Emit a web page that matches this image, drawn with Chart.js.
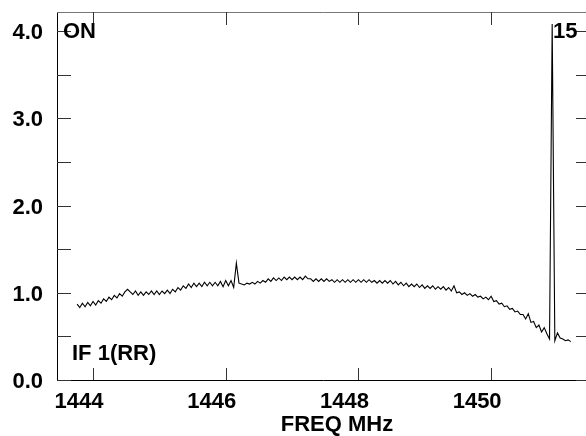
<!DOCTYPE html>
<html>
<head>
<meta charset="utf-8">
<script src="https://cdn.jsdelivr.net/npm/chart.js@4.4.1/dist/chart.umd.min.js"></script>
<style>
  html, body { margin: 0; padding: 0; background: #fff; width: 586px; height: 436px; overflow: hidden; }
  #wrap { width: 600px; height: 436px; }
</style>
</head>
<body>
<div id="wrap"><canvas id="grafica"></canvas></div>
<script>
// channel grid of the spectrum (MHz)
const freqInicio = 1443.76;
const anchoCanal = 0.04;

// amplitude per channel
const amplitud = [
  0.87, 0.83, 0.88, 0.84, 0.89, 0.85, 0.90, 0.86, 0.91, 0.88,
  0.93, 0.90, 0.95, 0.92, 0.97, 0.94, 0.99, 0.96, 1.01, 1.04,
  1.01, 0.98, 1.02, 0.97, 1.01, 0.97, 1.01, 0.98, 1.02, 0.98,
  1.02, 0.98, 1.02, 0.99, 1.03, 0.99, 1.04, 1.01, 1.06, 1.03,
  1.08, 1.05, 1.10, 1.06, 1.11, 1.07, 1.11, 1.07, 1.12, 1.08,
  1.12, 1.08, 1.12, 1.08, 1.13, 1.07, 1.14, 1.08, 1.14, 1.06,
  1.34, 1.11, 1.10, 1.09, 1.11, 1.10, 1.12, 1.10, 1.13, 1.11,
  1.14, 1.12, 1.16, 1.13, 1.17, 1.14, 1.17, 1.14, 1.18, 1.15,
  1.18, 1.15, 1.18, 1.15, 1.18, 1.15, 1.19, 1.16, 1.16, 1.13,
  1.16, 1.13, 1.16, 1.13, 1.16, 1.13, 1.15, 1.12, 1.15, 1.12,
  1.15, 1.12, 1.15, 1.12, 1.15, 1.12, 1.15, 1.12, 1.15, 1.12,
  1.15, 1.12, 1.14, 1.11, 1.14, 1.11, 1.14, 1.11, 1.14, 1.10,
  1.13, 1.09, 1.12, 1.08, 1.11, 1.07, 1.10, 1.07, 1.10, 1.06,
  1.09, 1.05, 1.08, 1.05, 1.08, 1.04, 1.07, 1.04, 1.07, 1.03,
  1.06, 1.02, 1.08, 1.00, 1.01, 0.98, 1.00, 0.97, 0.99, 0.96,
  0.98, 0.95, 0.96, 0.93, 0.95, 0.92, 0.96, 0.90, 0.91, 0.87,
  0.88, 0.84, 0.85, 0.81, 0.82, 0.78, 0.79, 0.75, 0.75, 0.70,
  0.76, 0.66, 0.67, 0.60, 0.63, 0.55, 0.60, 0.53, 0.47, 4.08,
  0.45, 0.54, 0.48, 0.47, 0.45, 0.46, 0.44
];

// axes
const xMin = 1443.457;
const xMax = 1451.49;
const yMin = 0;
const yMax = 4.218;
const xTicks = [1444, 1446, 1448, 1450];
const yTicks = [0, 0.5, 1, 1.5, 2, 2.5, 3, 3.5, 4];
const yTicksConTexto = [0, 1, 2, 3, 4];

// texts
const tituloX = "FREQ MHz";
const textoOn = "ON";
const textoScan = "15";
const textoIF = "IF 1(RR)";

const fuente = "'Liberation Sans', Arial, sans-serif";

const puntos = amplitud.map((v, i) => ({ x: freqInicio + i * anchoCanal, y: v }));

// 🖊️ frame, inward ticks and labels
const marcoPlugin = {
  id: "marco",
  afterDatasetsDraw(chart) {
    const { ctx, chartArea: a, scales } = chart;
    const sx = scales.x, sy = scales.y;
    ctx.save();
    ctx.lineWidth = 1;
    ctx.strokeStyle = "#000";
    ctx.beginPath();
    ctx.moveTo(a.left + 0.5, a.top);
    ctx.lineTo(a.left + 0.5, a.bottom + 0.5);
    ctx.lineTo(a.right, a.bottom + 0.5);
    ctx.lineTo(a.right, a.top);
    ctx.stroke();
    ctx.strokeStyle = "#777";
    ctx.beginPath();
    ctx.moveTo(a.left, a.top + 0.5);
    ctx.lineTo(a.right, a.top + 0.5);
    ctx.stroke();

    ctx.strokeStyle = "#333";
    ctx.beginPath();
    yTicks.forEach(v => {
      const py = Math.round(sy.getPixelForValue(v)) + 0.5;
      ctx.moveTo(a.left, py); ctx.lineTo(a.left + 14, py);
      ctx.moveTo(a.right - 14, py); ctx.lineTo(a.right, py);
    });
    xTicks.forEach(v => {
      const px = Math.round(sx.getPixelForValue(v)) + 0.5;
      ctx.moveTo(px, a.bottom); ctx.lineTo(px, a.bottom - 12);
      ctx.moveTo(px, a.top); ctx.lineTo(px, a.top + 13);
    });
    ctx.stroke();

    ctx.fillStyle = "#000";
    ctx.font = "bold 22px " + fuente;
    ctx.textBaseline = "middle";
    ctx.textAlign = "left";
    ctx.fillText(textoOn, a.left + 6, sy.getPixelForValue(4) + 1);
    ctx.fillText(textoIF, a.left + 15, 354);
    ctx.fillText(textoScan, 553, sy.getPixelForValue(4) + 1);
    ctx.textAlign = "center";
    ctx.fillText(tituloX, 337, 425);
    ctx.restore();
  }
};

new Chart(document.getElementById("grafica"), {
  type: "line",
  data: {
    datasets: [{
      data: puntos,
      borderColor: "#000",
      borderWidth: 1.1,
      pointRadius: 0,
      tension: 0,
      fill: false
    }]
  },
  options: {
    responsive: true,
    maintainAspectRatio: false,
    animation: false,
    layout: { padding: { top: 12, right: 10, left: 0, bottom: 0 } },
    plugins: {
      legend: { display: false },
      tooltip: { enabled: false },
      title: { display: false }
    },
    scales: {
      x: {
        type: "linear",
        min: xMin,
        max: xMax,
        afterBuildTicks: s => { s.ticks = xTicks.map(v => ({ value: v })); },
        afterFit: s => { s.height = 56; s.paddingLeft = 0; s.paddingRight = 0; },
        grid: { display: false, drawTicks: false },
        border: { display: false },
        ticks: {
          padding: 9,
          labelOffset: -14,
          color: "#000",
          font: { family: fuente, size: 22, weight: "bold" },
          maxRotation: 0,
          callback: v => String(v)
        }
      },
      y: {
        type: "linear",
        min: yMin,
        max: yMax,
        afterBuildTicks: s => { s.ticks = yTicksConTexto.map(v => ({ value: v })); },
        afterFit: s => { s.width = 57; s.paddingTop = 0; s.paddingBottom = 0; },
        grid: { display: false, drawTicks: false },
        border: { display: false },
        ticks: {
          padding: 14,
          labelOffset: 2,
          color: "#000",
          font: { family: fuente, size: 22, weight: "bold" },
          callback: v => v.toFixed(1)
        }
      }
    }
  },
  plugins: [marcoPlugin]
});
</script>
</body>
</html>
